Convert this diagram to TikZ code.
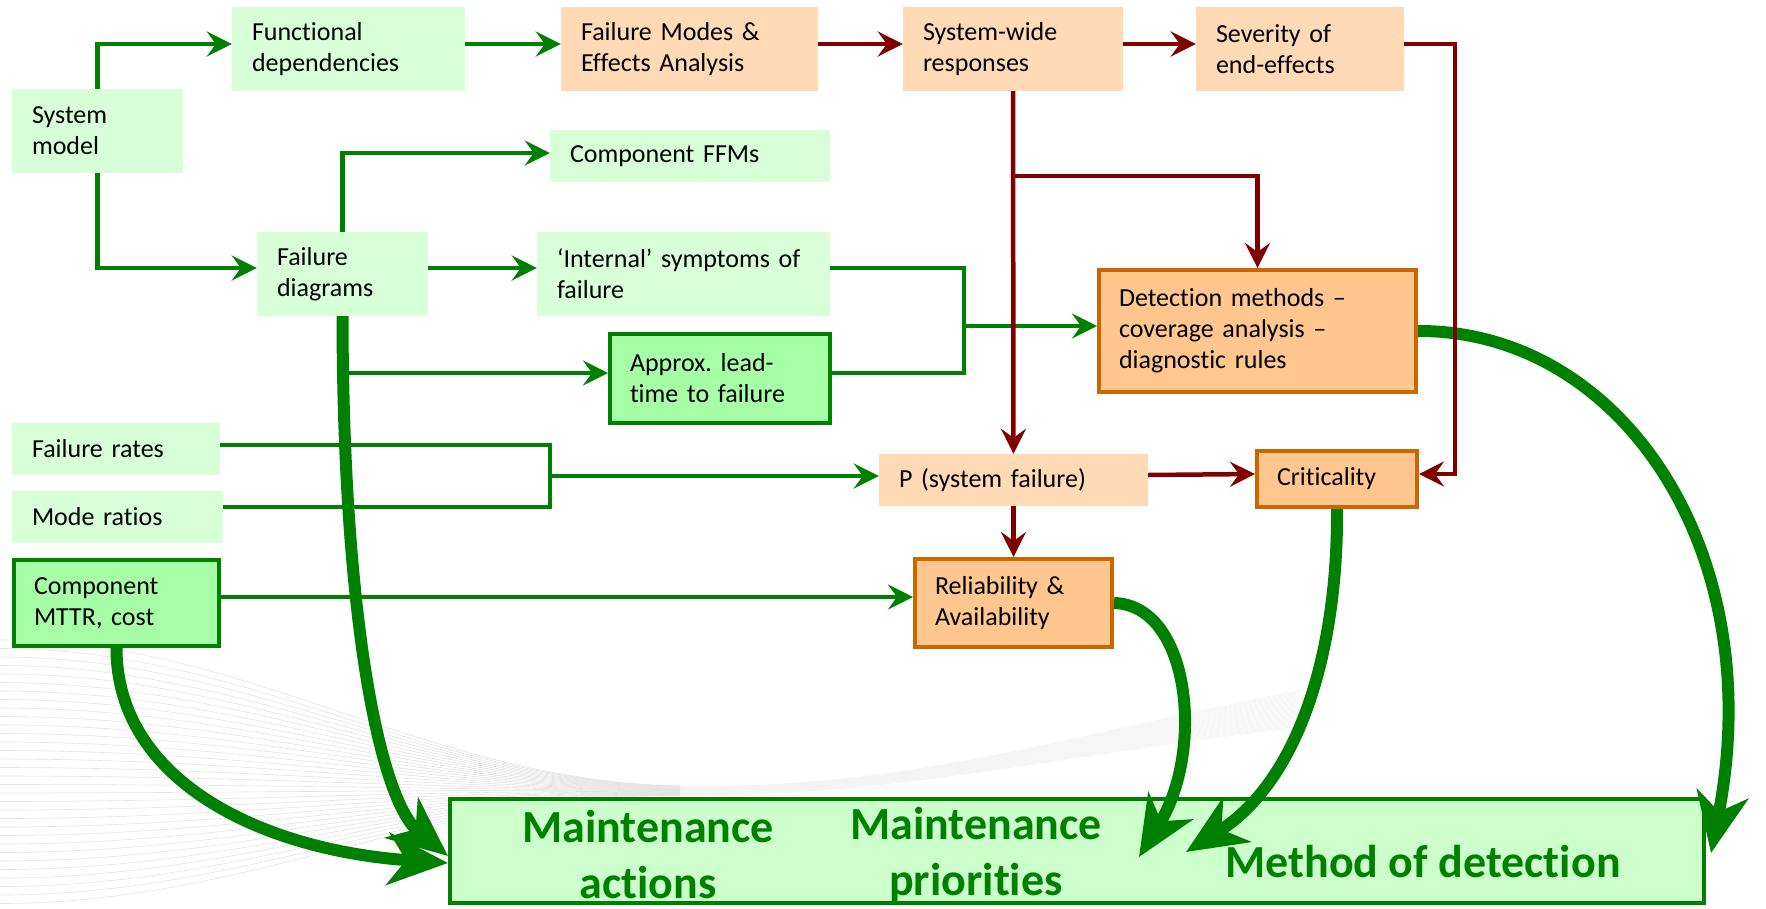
\documentclass[tikz,border=0pt]{standalone}
\usepackage{fontspec}
\setmainfont{Carlito}[Ligatures={TeX,NoCommon}]
\usetikzlibrary{arrows.meta}
\definecolor{lgreen}{RGB}{217,255,217}
\definecolor{bgreen}{RGB}{166,255,166}
\definecolor{peach}{RGB}{255,218,181}
\definecolor{orfill}{RGB}{255,198,142}
\definecolor{orline}{RGB}{204,102,0}
\definecolor{dgreen}{RGB}{0,128,0}
\definecolor{dred}{RGB}{128,0,0}
\definecolor{bigfill}{RGB}{204,255,204}
\begin{document}
\begin{tikzpicture}[x=1pt,y=-1pt,
  base/.style={rectangle, inner xsep=20pt, inner ysep=0pt, align=left,
    font=\fontsize{26pt}{31pt}\selectfont, text=black},
  lg/.style={base, fill=lgreen},
  bg/.style={base, fill=bgreen, draw=dgreen, line width=4pt},
  pc/.style={base, fill=peach},
  og/.style={base, fill=orfill, draw=orline, line width=4pt},
  bigtxt/.style={inner sep=0pt, align=center, text=dgreen,
    font=\fontsize{46pt}{56pt}\selectfont\bfseries},
  gplain/.style={draw=dgreen, line width=4.5pt},
  gline/.style={gplain, -{Stealth[length=25pt,width=25pt,inset=9pt]}},
  rline/.style={draw=dred, line width=4.5pt, -{Stealth[length=25pt,width=25pt,inset=9pt]}},
  tline/.style={draw=dgreen, line width=12pt, -{Stealth[length=60pt,width=52pt,inset=18pt]}},
  bgwave/.style={draw=gray!22, line width=0.6pt},
  bgwavefaint/.style={draw=gray!9, line width=0.6pt}
]
\useasboundingbox (0,0) rectangle (1766,908);

% faint background waves
\foreach \i in {0,...,31} {
  \draw[bgwave] (0,{640+8.5*\i}) .. controls (250,{640+8.5*\i}) and (420,{780+0.5*\i}) .. (680,{786+0.3*\i});
  \draw[bgwavefaint] (680,{786+0.3*\i}) .. controls (900,{790+0.2*\i}) and (1050,{740+0.5*\i}) .. (1300,{690+1.2*\i});
}

% boxes
\node[lg, minimum width=171pt, minimum height=84pt, text width=131pt] (sysm) at (97.5,131) {System\\model};
\node[lg, minimum width=233pt, minimum height=84pt, text width=193pt] (fdep) at (348.5,49) {Functional\\dependencies};
\node[pc, minimum width=257pt, minimum height=84pt, text width=217pt] (fmea) at (689.5,49) {Failure~Modes~\&\\Effects~Analysis};
\node[pc, minimum width=220pt, minimum height=84pt, text width=180pt] (swr) at (1013,49) {System-wide\\responses};
\node[pc, minimum width=208pt, minimum height=84pt, text width=168pt] (sev) at (1300,49) {Severity~of\\end-effects};
\node[lg, minimum width=280pt, minimum height=52pt, text width=240pt] (cffm) at (690,156) {Component~FFMs};
\node[lg, minimum width=171pt, minimum height=84pt, text width=131pt] (fdiag) at (342.5,274) {Failure\\diagrams};
\node[lg, minimum width=293pt, minimum height=84pt, text width=253pt] (intl) at (683.5,274) {‘Internal’~symptoms~of\\failure};
\node[bg, minimum width=220pt, minimum height=89pt, text width=180pt] (approx) at (720,378.5) {Approx.~lead-\\time~to~failure};
\node[og, minimum width=317pt, minimum height=122pt, text width=277pt] (detect) at (1257.5,331) {Detection~methods~–\\coverage~analysis~–\\diagnostic~rules};
\node[lg, minimum width=208pt, minimum height=52pt, text width=168pt] (frates) at (116,449) {Failure~rates};
\node[lg, minimum width=211pt, minimum height=52pt, text width=171pt] (mratio) at (117.5,517) {Mode~ratios};
\node[bg, minimum width=205pt, minimum height=86pt, text width=165pt] (mttr) at (116.5,603) {Component\\MTTR,~cost};
\node[pc, minimum width=269pt, minimum height=52pt, text width=229pt] (psys) at (1013.5,480) {P~(system~failure)};
\node[og, minimum width=160pt, minimum height=56pt, text width=120pt] (crit) at (1337,479) {Criticality};
\node[og, minimum width=197pt, minimum height=88pt, text width=157pt] (rel) at (1013.5,603) {Reliability~\&\\Availability};

% bottom outcome box
\node[rectangle, fill=bigfill, draw=dgreen, line width=4pt, minimum width=1254pt, minimum height=104pt] (big) at (1077,851) {};
\node[bigtxt] (bt1) at (648,855) {Maintenance\\actions};
\node[bigtxt] (bt2) at (976,855) {Maintenance\\priorities};
\node[bigtxt] (bt3) at (1423,862) {Method of detection};

% junction coordinates
\coordinate (rj) at (1013,176);
\coordinate (gj) at (964,326);
\coordinate (a0) at (348,373);
\coordinate (mj) at (550,476);
\coordinate (tipR) at (1139,857);
\coordinate (tipC) at (1186,852);
\coordinate (tipD) at (1711,853);

% thick curved arrows
\draw[tline] (fdiag.south) .. controls (343,620) and (380,800) .. ([yshift=-5pt]big.west);
\draw[tline] (mttr.south) .. controls (116.5,780) and (260,850) .. ([yshift=-12pt]big.west);
\draw[tline] (rel.east) .. controls (1190,605) and (1205,750) .. (tipR);
\draw[tline] (crit.south) .. controls (1338,650) and (1300,780) .. (tipC);
\draw[tline] (detect.east) .. controls (1620,330) and (1770,550) .. (tipD);

% green connectors
\draw[gline] (sysm.north) |- ([yshift=5pt]fdep.west);
\draw[gline] (sysm.south) |- ([yshift=6pt]fdiag.west);
\draw[gline] ([yshift=5pt]fdep.east) -- ([yshift=5pt]fmea.west);
\draw[gline] ([yshift=6pt]fdiag.east) -- ([yshift=6pt]intl.west);
\draw[gline] (fdiag.north) |- ([yshift=3pt]cffm.west);
\draw[gplain] ([yshift=6pt]intl.east) -| (gj);
\draw[gplain] ([yshift=5.5pt]approx.east) -| (gj);
\draw[gline] (gj) -- ([yshift=5pt]detect.west);
\draw[gline] (a0) -- ([yshift=5.5pt]approx.west);
\draw[gplain] ([yshift=4pt]frates.east) -| (mj);
\draw[gplain] ([yshift=10pt]mratio.east) -| (mj);
\draw[gline] (mj) -- ([yshift=4pt]psys.west);
\draw[gline] ([yshift=6pt]mttr.east) -- ([yshift=6pt]rel.west);

% red connectors
\draw[rline] ([yshift=5pt]fmea.east) -- ([yshift=5pt]swr.west);
\draw[rline] ([yshift=5pt]swr.east) -- ([yshift=5pt]sev.west);
\draw[rline] (swr.south) -- (psys.north);
\draw[rline] (rj) -| (detect.north);
\draw[rline] ([yshift=5pt]sev.east) -- ++(51,0) |- ([yshift=5pt]crit.east);
\draw[rline] ([yshift=5pt]psys.east) -- ([yshift=5pt]crit.west);
\draw[rline] (psys.south) -- (rel.north);
\end{tikzpicture}
\end{document}
